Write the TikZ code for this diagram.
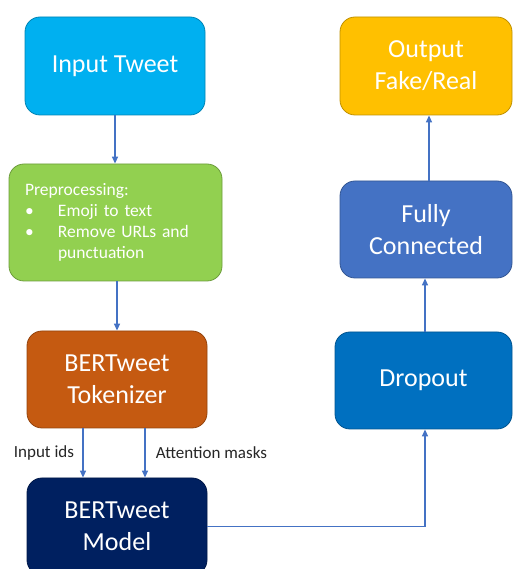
\documentclass[tikz,border=0pt]{standalone}
\usepackage{fontspec}
\setmainfont{Carlito}
\usepackage{tikz}
\usetikzlibrary{arrows.meta,positioning}
\usepackage{xcolor}
\definecolor{tweetblue}{HTML}{00B0F0}
\definecolor{prepgreen}{HTML}{92D050}
\definecolor{tokorange}{HTML}{C55A11}
\definecolor{modelnavy}{HTML}{002060}
\definecolor{dropblue}{HTML}{0070C0}
\definecolor{fcblue}{HTML}{4472C4}
\definecolor{outgold}{HTML}{FFC000}
\definecolor{linkblue}{HTML}{4472C4}

\tikzset{
  block/.style={draw=#1!75!black, fill=#1, line width=0.8pt, rounded corners=15pt,
    text=white, align=center, font=\fontsize{26}{32}\selectfont, inner sep=0pt},
  link/.style={draw=linkblue, line width=1.3pt, -{Triangle[length=7pt,width=6pt]}},
  lbl/.style={font=\fontsize{17}{20}\selectfont, text=black!85}
}

\begin{document}
\begin{tikzpicture}[x=1pt, y=1pt]
\useasboundingbox (0,0) rectangle (513,569);
\clip (0,0) rectangle (513,569);

\node[block=tweetblue, minimum width=180pt, minimum height=98pt] (tweet) at (115,503) {Input Tweet};
\node[block=prepgreen, minimum width=213pt, minimum height=117pt, text width=181pt, align=left,
  font=\fontsize{17.5}{21}\selectfont] (prep) at (115.5,346.5)
  {Preprocessing:\\
   \makebox[33pt][l]{\textbullet}Emoji to text\\
   \makebox[33pt][l]{\textbullet}Remove URLs and\\
   \hspace*{33pt}punctuation};
\node[block=tokorange, minimum width=180pt, minimum height=97pt] (tok) at (117,189.5) {BERTweet\\Tokenizer};
\node[block=modelnavy, minimum width=180pt, minimum height=97pt] (model) at (117,42.5) {BERTweet\\Model};
\node[block=dropblue, minimum width=177pt, minimum height=97pt] (drop) at (423.5,188.5) {Dropout};
\node[block=fcblue, minimum width=172pt, minimum height=97pt] (fc) at (426,339.5) {Fully\\Connected};
\node[block=outgold, minimum width=172pt, minimum height=98pt] (out) at (426,503) {Output\\Fake/Real};

\draw[link] (tweet.south) -- (tweet.south |- prep.north);
\draw[link] (tok.north |- prep.south) -- (tok.north);
\draw[link] ([xshift=-34pt]tok.south) -- ([xshift=-34pt]model.north)
  node[lbl, midway, left=5pt] (ids) {Input ids};
\draw[link] ([xshift=28pt]tok.south) -- ([xshift=28pt]model.north)
  node[lbl, midway, right=7pt] (masks) {Attention masks};
\draw[link] (model.east) -| ([xshift=1.5pt]drop.south);
\draw[link] ([xshift=1.5pt]drop.north) -- ([xshift=1.5pt]drop.north |- fc.south);
\draw[link] ([xshift=3pt]fc.north) -- ([xshift=3pt]out.south);
\end{tikzpicture}
\end{document}
